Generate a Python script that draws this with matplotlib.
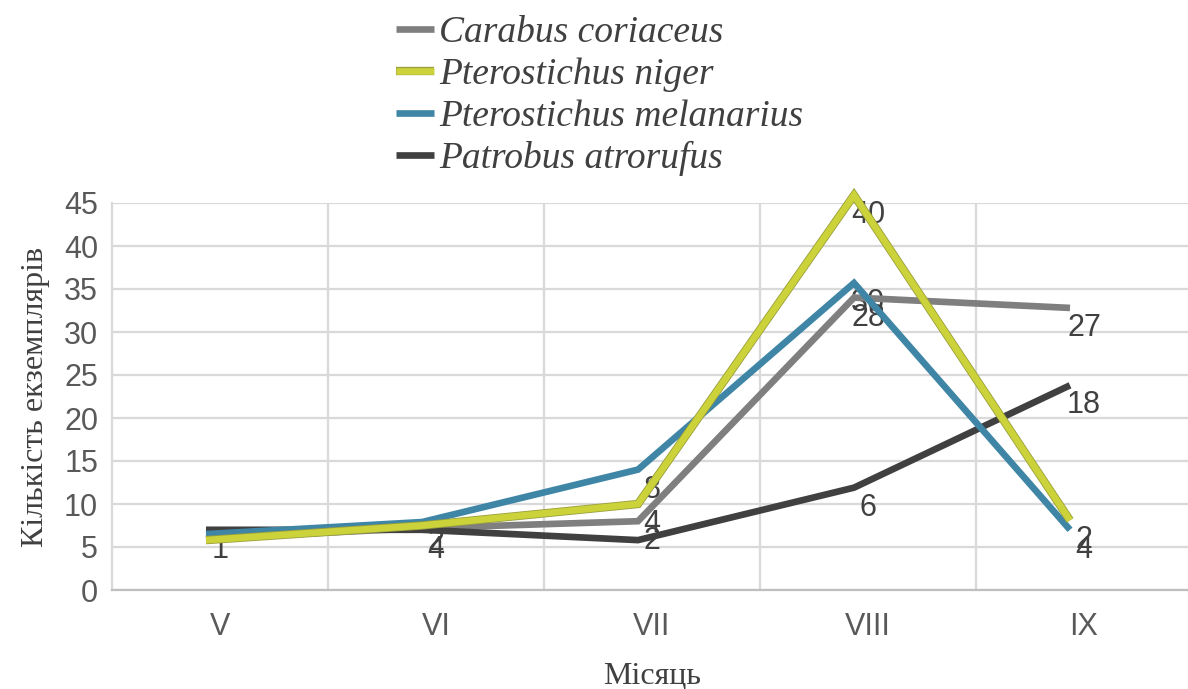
import numpy as np
import matplotlib.pyplot as plt
import matplotlib.patheffects as pe
import matplotlib.transforms as mtransforms

# data
months = ["V", "VI", "VII", "VIII", "IX"]
carabus = [6.0, 7.2, 8.0, 34.0, 32.8]
niger = [5.8, 7.5, 10.0, 45.9, 8.1]
melanarius = [6.5, 7.9, 14.0, 35.7, 7.0]
patrobus = [7.0, 7.0, 5.8, 11.9, 23.8]

# data labels as printed on the chart (None = no label shown)
carabus_lbl = [None, None, "2", "28", "27"]
niger_lbl = [None, None, "4", "40", "2"]
melanarius_lbl = [None, "2", "8", "30", "4"]
patrobus_lbl = ["1", "4", None, "6", "18"]

names = ["Carabus coriaceus", "Pterostichus niger",
         "Pterostichus melanarius", "Patrobus atrorufus"]
colors = ["#7f7f7f", "#ccd23a", "#3f86a6", "#404040"]

fig = plt.figure(figsize=(11.88, 6.89), dpi=100)
ax = fig.add_axes([112 / 1188, 99 / 689, 1080 / 1188, 387 / 689])

x = np.arange(len(months))
series = [carabus, niger, melanarius, patrobus]
labels = [carabus_lbl, niger_lbl, melanarius_lbl, patrobus_lbl]
zorders = [3, 6, 5, 4]

# the lines sit a little left of the category centres in the original
shift = mtransforms.offset_copy(ax.transData, fig=fig, x=-14, y=0, units="dots")

handles = []
for vals, lbls, col, name, z in zip(series, labels, colors, names, zorders):
    effects = None
    if col == "#ccd23a":
        effects = [pe.Stroke(linewidth=6, foreground="#9a9f3a"), pe.Normal()]
    h, = ax.plot(x, vals, color=col, lw=4.8, zorder=z, label=name,
                 solid_joinstyle="miter", solid_capstyle="butt",
                 path_effects=effects, transform=shift, clip_on=False)
    handles.append(h)
    for xi, v, t in zip(x, vals, lbls):
        if t is None:
            continue
        ax.annotate(t, (xi, v), xytext=(0, -14.5), textcoords="offset points",
                    ha="center", va="center", fontsize=22, color="#404040",
                    family="Liberation Sans", zorder=2, annotation_clip=False)

ax.set_xlim(-0.5, 4.5)
ax.set_ylim(0, 45)
ax.set_yticks(np.arange(0, 46, 5))
ax.set_xticks(x)
ax.set_xticklabels(months)
ax.set_xticks(np.arange(0.5, 4.5, 1), minor=True)
ax.tick_params(axis="both", which="both", length=0, labelsize=22,
               labelcolor="#595959")
ax.tick_params(axis="x", pad=16)
ax.tick_params(axis="y", pad=10)
for lab in ax.get_xticklabels() + ax.get_yticklabels():
    lab.set_family("Liberation Sans")

ax.grid(True, axis="y", which="major", color="#d9d9d9", lw=1.6, zorder=0)
ax.grid(True, axis="x", which="minor", color="#d9d9d9", lw=1.6, zorder=0)
ax.set_axisbelow(True)
for s in ["top", "right"]:
    ax.spines[s].set_visible(False)
ax.spines["left"].set_color("#d9d9d9")
ax.spines["left"].set_linewidth(1.6)
ax.spines["bottom"].set_color("#bfbfbf")
ax.spines["bottom"].set_linewidth(1.6)

ax.set_ylabel("Кількість екземплярів", family="Liberation Serif",
              fontsize=23, color="#404040", labelpad=10)
ax.set_xlabel("Місяць", family="Liberation Serif", fontsize=23,
              color="#404040", labelpad=14)

fig.legend(handles=handles, loc="upper center", bbox_to_anchor=(0.505, 1.016),
           frameon=False, ncol=1, handlelength=1.0, handletextpad=0.15,
           labelspacing=0.2, borderpad=0.2,
           prop={"family": "Liberation Serif", "style": "italic", "size": 27},
           labelcolor="#404040")

fig.savefig("out.png", dpi=100)
